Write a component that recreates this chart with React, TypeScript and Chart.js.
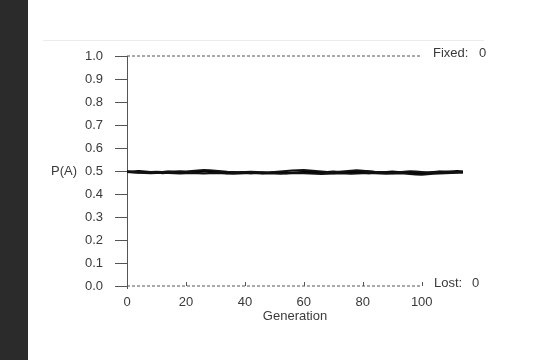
import React, { useEffect, useRef } from "react";
import { Chart, registerables } from "chart.js";

Chart.register(...registerables);

const generations = [
  0, 2, 4, 6, 8, 10, 12, 14, 16, 18,
  20, 22, 24, 26, 28, 30, 32, 34, 36, 38,
  40, 42, 44, 46, 48, 50, 52, 54, 56, 58,
  60, 62, 64, 66, 68, 70, 72, 74, 76, 78,
  80, 82, 84, 86, 88, 90, 92, 94, 96, 98,
  100, 102, 104, 106, 108, 110, 112, 114,
];

const popA = [
  0.498, 0.496, 0.494, 0.496, 0.492, 0.494, 0.49, 0.492, 0.494, 0.492,
  0.494, 0.496, 0.498, 0.5, 0.496, 0.494, 0.492, 0.49, 0.492, 0.494,
  0.492, 0.49, 0.492, 0.494, 0.492, 0.494, 0.496, 0.494, 0.492, 0.494,
  0.496, 0.498, 0.496, 0.494, 0.492, 0.49, 0.492, 0.494, 0.496, 0.494,
  0.492, 0.49, 0.492, 0.494, 0.492, 0.49, 0.492, 0.494, 0.492, 0.49,
  0.488, 0.49, 0.492, 0.494, 0.492, 0.494, 0.496, 0.494,
];

const popB = [
  0.496, 0.497, 0.496, 0.495, 0.496, 0.497, 0.496, 0.497, 0.498, 0.499,
  0.498, 0.5, 0.502, 0.504, 0.503, 0.501, 0.499, 0.497, 0.496, 0.495,
  0.496, 0.497, 0.496, 0.495, 0.494, 0.496, 0.498, 0.5, 0.502, 0.503,
  0.504, 0.502, 0.5, 0.498, 0.496, 0.495, 0.497, 0.499, 0.501, 0.503,
  0.501, 0.499, 0.497, 0.496, 0.495, 0.494, 0.495, 0.497, 0.499, 0.498,
  0.496, 0.494, 0.495, 0.497, 0.498, 0.497, 0.496, 0.497,
];

const popC = [
  0.496, 0.494, 0.492, 0.491, 0.49, 0.491, 0.492, 0.491, 0.49, 0.489,
  0.49, 0.491, 0.49, 0.489, 0.49, 0.491, 0.49, 0.489, 0.488, 0.489,
  0.49, 0.491, 0.49, 0.489, 0.49, 0.489, 0.488, 0.489, 0.49, 0.491,
  0.49, 0.489, 0.488, 0.487, 0.488, 0.489, 0.49, 0.489, 0.488, 0.489,
  0.49, 0.491, 0.49, 0.489, 0.488, 0.489, 0.49, 0.489, 0.487, 0.485,
  0.484, 0.486, 0.488, 0.489, 0.49, 0.491, 0.492, 0.493,
];

const popD = [
  0.498, 0.498, 0.5, 0.498, 0.496, 0.494, 0.496, 0.498, 0.496, 0.494,
  0.492, 0.494, 0.496, 0.498, 0.5, 0.498, 0.496, 0.494, 0.492, 0.494,
  0.496, 0.494, 0.492, 0.49, 0.492, 0.494, 0.492, 0.49, 0.492, 0.494,
  0.496, 0.494, 0.492, 0.494, 0.496, 0.498, 0.496, 0.494, 0.496, 0.498,
  0.5, 0.498, 0.496, 0.494, 0.496, 0.498, 0.496, 0.494, 0.492, 0.49,
  0.492, 0.494, 0.496, 0.498, 0.496, 0.498, 0.5, 0.498,
];

const xTickValues = [0, 20, 40, 60, 80, 100];
const boundaryX = [0, 100];
const fixedLevel = 1;
const lostLevel = 0;
const fixedCount = 0;
const lostCount = 0;

const FONT = "'Liberation Sans', Arial, sans-serif";
const TEXT = "#3a3a3a";
const AXIS = "#555";
const SIZE = 13;

const toPoints = (vals: number[]) => vals.map((v, i) => ({ x: generations[i], y: v }));

const overlay = {
  id: "overlay",
  afterDraw(chart: any) {
    const { ctx, chartArea, scales } = chart;
    const x = scales.x;
    const y = scales.y;
    ctx.save();
    ctx.strokeStyle = AXIS;
    ctx.lineWidth = 1;
    xTickValues.forEach((v) => {
      const px = Math.round(x.getPixelForValue(v)) + 0.5;
      ctx.beginPath();
      ctx.moveTo(px, chartArea.bottom);
      ctx.lineTo(px, chartArea.bottom - 4);
      ctx.stroke();
    });
    const ax = Math.round(chartArea.left) + 0.5;
    ctx.beginPath();
    ctx.moveTo(ax, chartArea.bottom);
    ctx.lineTo(ax, chartArea.bottom + 3);
    ctx.stroke();

    ctx.fillStyle = TEXT;
    ctx.font = `${SIZE}px ${FONT}`;
    ctx.textBaseline = "middle";
    ctx.textAlign = "right";
    ctx.fillText("P(A)", 77, y.getPixelForValue(0.5));
    ctx.textAlign = "left";
    const fy = y.getPixelForValue(fixedLevel) - 3;
    const ly = y.getPixelForValue(lostLevel) - 3;
    ctx.fillText("Fixed:", 433, fy);
    ctx.fillText(String(fixedCount), 479, fy);
    ctx.fillText("Lost:", 434, ly);
    ctx.fillText(String(lostCount), 472, ly);
    ctx.restore();
  },
};

export default function App() {
  const ref = useRef<HTMLCanvasElement>(null);
  useEffect(() => {
    if (!ref.current) return;
    const dashed = (level: number) => ({
      data: boundaryX.map((gx) => ({ x: gx, y: level })),
      borderColor: AXIS,
      borderWidth: 1,
      borderDash: [3, 2],
      pointRadius: 0,
      clip: false as any,
    });
    const line = (vals: number[], color: string, w: number) => ({
      data: toPoints(vals),
      borderColor: color,
      borderWidth: w,
      pointRadius: 0,
      tension: 0,
    });
    const chart = new Chart(ref.current, {
      type: "line",
      data: {
        datasets: [
          dashed(fixedLevel),
          dashed(lostLevel),
          line(popB, "#111", 2),
          line(popC, "#111", 2),
          line(popD, "#000", 2),
          line(popA, "#000", 2),
        ] as any,
      },
      plugins: [overlay],
      options: {
        animation: false,
        responsive: false,
        layout: { padding: { left: 0, top: 56, right: 91, bottom: 0 } },
        plugins: { legend: { display: false }, tooltip: { enabled: false } },
        scales: {
          x: {
            type: "linear",
            min: 0,
            max: 114,
            afterBuildTicks: (s: any) => {
              s.ticks = xTickValues.map((v) => ({ value: v }));
            },
            afterFit: (s: any) => {
              s.height = 74;
            },
            grid: { display: false, drawTicks: false },
            border: { display: false },
            ticks: {
              color: TEXT,
              font: { family: FONT, size: SIZE },
              padding: 9,
              maxRotation: 0,
              autoSkip: false,
            },
            title: {
              display: true,
              text: "Generation",
              color: TEXT,
              font: { family: FONT, size: SIZE },
              padding: { top: 0, bottom: 36 },
            },
          },
          y: {
            type: "linear",
            min: 0,
            max: 1,
            afterFit: (s: any) => {
              s.width = 127;
            },
            grid: {
              display: true,
              drawOnChartArea: false,
              drawTicks: true,
              tickLength: 12,
              color: AXIS,
            },
            border: { display: true, color: AXIS },
            ticks: {
              stepSize: 0.1,
              color: TEXT,
              font: { family: FONT, size: SIZE },
              padding: 12,
              callback: (v: any) => Number(v).toFixed(1),
            },
          },
        },
      },
    });
    return () => chart.destroy();
  }, []);

  return (
    <div style={{ position: "fixed", left: 0, top: 0, width: 554, height: 360, background: "#fff" }}>
      <div style={{ position: "absolute", left: 0, top: 0, width: 28, height: 360, background: "#2b2b2b" }} />
      <div style={{ position: "absolute", left: 43, top: 40, width: 441, height: 1, background: "#ececec" }} />
      <canvas ref={ref} width={554} height={360} style={{ position: "absolute", left: 0, top: 0 }} />
    </div>
  );
}
